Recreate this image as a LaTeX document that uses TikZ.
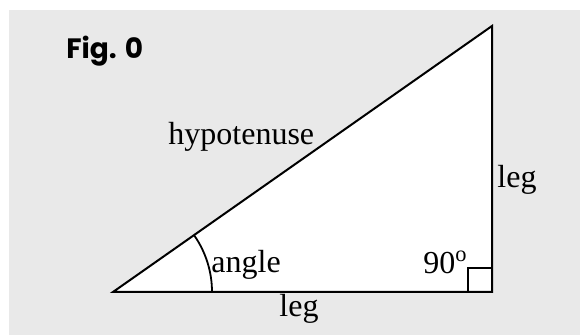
\documentclass[tikz,border=0pt]{standalone}
\usepackage{fontspec}
\setmainfont{Liberation Serif}
\newfontfamily\figfont{Poppins}
\usetikzlibrary{calc}
\definecolor{panelgray}{HTML}{E9E9E9}
\tikzset{
  leglabel/.style={font=\fontsize{16}{19}\selectfont, inner sep=0pt},
  side/.style={line width=1pt, line join=miter}
}

\begin{document}
\begin{tikzpicture}[x=0.5pt, y=-0.5pt]
  \useasboundingbox (0,0) rectangle (580,335);
  \fill[panelgray] (9,10) rectangle (580,335);
  % triangle corners
  \coordinate (A) at (113,292);
  \coordinate (B) at (492,292);
  \coordinate (C) at (492,26);
  \fill[white] (A) -- (B) -- (C) -- cycle;
  \draw[side] (A) -- (B) -- (C) -- cycle;
  \draw[side] ($(B)+(-24,0)$) |- ($(B)+(0,-24)$);
  \draw[line width=0.9pt] ($(A)+(99,0)$) arc[start angle=0, end angle=35.06, radius=49.5pt];
  % labels
  \node[font=\figfont\bfseries\fontsize{14}{17}\selectfont, inner sep=0pt, anchor=base west] (fig) at (66,59) {Fig. 0};
  \node[leglabel, anchor=base west] (hyp) at (168,145) {hypotenuse};
  \node[leglabel, anchor=base west] (legr) at (497,188) {leg};
  \node[leglabel, anchor=base west] (legb) at (279,317) {leg};
  \node[leglabel, anchor=base west] (ang) at (211,273) {angle};
  \node[leglabel, anchor=base west] (right) at (423,274) {90\textsuperscript{o}};
\end{tikzpicture}
\end{document}
